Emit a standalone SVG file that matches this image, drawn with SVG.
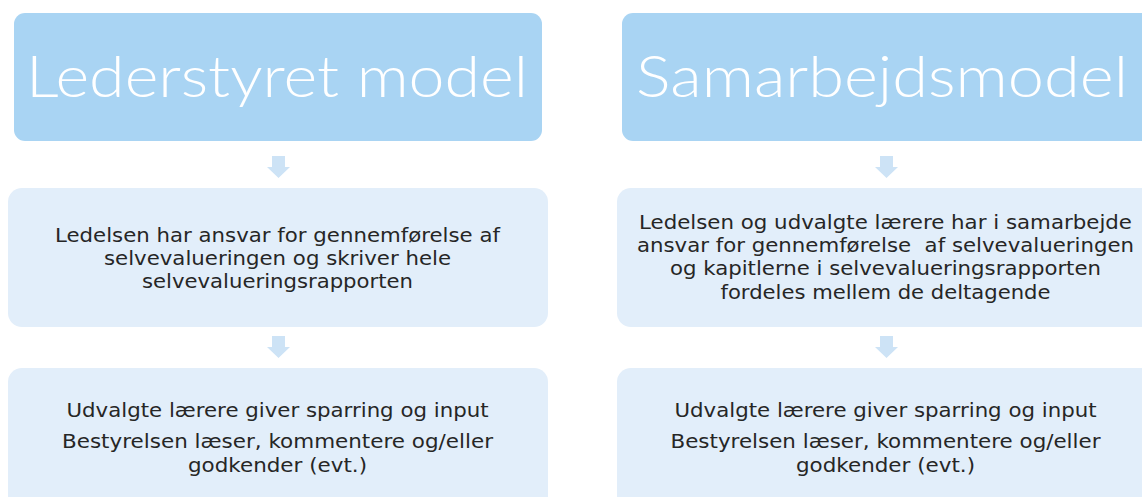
<svg xmlns="http://www.w3.org/2000/svg" width="1142" height="497" viewBox="0 0 1142 497">
<style>
.hdr{fill:#A9D4F3}
.box{fill:#E2EEFA}
.arr{fill:#CDE3F6}
.title{font-family:"Lato","Open Sans","Liberation Sans",sans-serif;font-weight:300;font-size:57px;fill:#FFFFFF;text-anchor:middle}
.body{font-family:"DejaVu Sans","Liberation Sans",sans-serif;font-size:19.5px;fill:#262626;text-anchor:middle}
</style>
<rect width="1142" height="497" fill="#FFFFFF"/>
<g id="left-header">
<rect class="hdr" x="14" y="13" width="528" height="128" rx="11"/>
<text class="title" x="277" y="97" textLength="502" lengthAdjust="spacingAndGlyphs">Lederstyret model</text>
</g>
<g id="left-middle">
<rect class="box" x="8" y="188" width="540" height="139" rx="14"/>
<text class="body" x="277.5" y="242" textLength="445" lengthAdjust="spacingAndGlyphs">Ledelsen har ansvar for gennemførelse af</text>
<text class="body" x="277.5" y="265" textLength="347" lengthAdjust="spacingAndGlyphs">selvevalueringen og skriver hele</text>
<text class="body" x="277.5" y="288" textLength="271" lengthAdjust="spacingAndGlyphs">selvevalueringsrapporten</text>
</g>
<g id="left-bottom">
<rect class="box" x="8" y="368" width="540" height="150" rx="14"/>
<text class="body" x="277.5" y="417" textLength="422" lengthAdjust="spacingAndGlyphs">Udvalgte lærere giver sparring og input</text>
<text class="body" x="277.5" y="448" textLength="431" lengthAdjust="spacingAndGlyphs">Bestyrelsen læser, kommentere og/eller</text>
<text class="body" x="277.5" y="472" textLength="179" lengthAdjust="spacingAndGlyphs">godkender (evt.)</text>
</g>
<g id="right-header">
<rect class="hdr" x="622" y="13" width="540" height="128" rx="11"/>
<text class="title" x="882" y="97" textLength="492" lengthAdjust="spacingAndGlyphs">Samarbejdsmodel</text>
</g>
<g id="right-middle">
<rect class="box" x="617" y="188" width="545" height="139" rx="14"/>
<text class="body" x="885.5" y="229" textLength="493" lengthAdjust="spacingAndGlyphs">Ledelsen og udvalgte lærere har i samarbejde</text>
<text class="body" x="885.5" y="252" textLength="497" lengthAdjust="spacingAndGlyphs" xml:space="preserve">ansvar for gennemførelse  af selvevalueringen</text>
<text class="body" x="885.5" y="275" textLength="431" lengthAdjust="spacingAndGlyphs">og kapitlerne i selvevalueringsrapporten</text>
<text class="body" x="885.5" y="299" textLength="330" lengthAdjust="spacingAndGlyphs">fordeles mellem de deltagende</text>
</g>
<g id="right-bottom">
<rect class="box" x="617" y="368" width="545" height="150" rx="14"/>
<text class="body" x="885.5" y="417" textLength="422" lengthAdjust="spacingAndGlyphs">Udvalgte lærere giver sparring og input</text>
<text class="body" x="885.5" y="448" textLength="430" lengthAdjust="spacingAndGlyphs">Bestyrelsen læser, kommentere og/eller</text>
<text class="body" x="885.5" y="472" textLength="179" lengthAdjust="spacingAndGlyphs">godkender (evt.)</text>
</g>
<g id="connectors">
<polygon class="arr" points="272,156 285,156 285,167 290,167 278.5,178 267,167 272,167"/>
<polygon class="arr" points="272,336 285,336 285,347 290,347 278.5,358 267,347 272,347"/>
<polygon class="arr" points="880,156 893,156 893,167 898,167 886.5,178 875,167 880,167"/>
<polygon class="arr" points="880,336 893,336 893,347 898,347 886.5,358 875,347 880,347"/>
</g>
</svg>
